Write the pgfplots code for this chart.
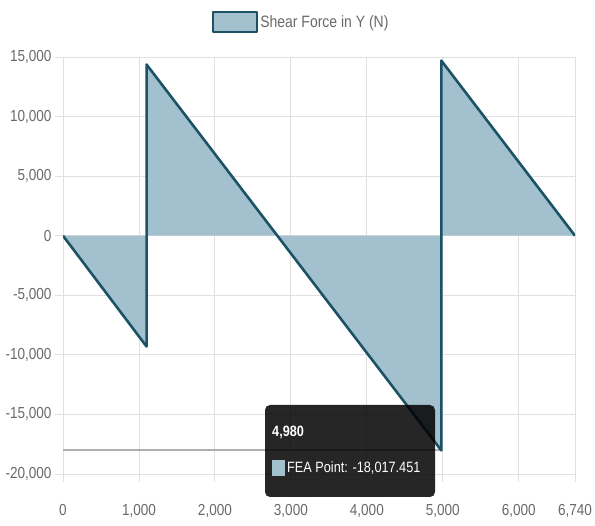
\documentclass[border=0pt]{standalone}
\usepackage{pgfplots}
\pgfplotsset{compat=1.18}
\usepackage{fontspec}
\setmainfont{Liberation Sans}[FakeStretch=0.85]
\definecolor{linec}{RGB}{28,82,102}
\definecolor{fillc}{RGB}{163,192,206}
\definecolor{gridc}{RGB}{224,224,224}
\definecolor{labc}{RGB}{105,105,105}
\definecolor{crossc}{RGB}{175,175,175}
\begin{document}
\begin{tikzpicture}
\path[use as bounding box] (0,0) rectangle (595bp,526bp);
\begin{axis}[
  at={(63bp,52bp)}, anchor=south west,
  scale only axis, width=512bp, height=417bp,
  xmin=0, xmax=6740, ymin=-20000, ymax=15000,
  xtick={0,1000,2000,3000,4000,5000,6000,6740},
  ytick={-20000,-15000,...,15000},
  grid=major, major grid style={gridc, line width=0.9pt},
  axis line style={draw=none},
  tick style={gridc, line width=0.9pt},
  major tick length=8bp, tick align=outside,
  xtick pos=lower, ytick pos=left,
  ticklabel style={font=\fontsize{16}{18}\selectfont, text=labc},
  xticklabel style={yshift=-19bp},
  /pgf/number format/assume math mode=true,
  /pgf/number format/1000 sep={,},
  scaled ticks=false,
  legend style={at={(0.465,1.084)}, anchor=center, draw=none, fill=none,
    font=\fontsize{16.5}{18}\selectfont, text=labc},
  legend image code/.code={\draw[line width=2.6bp, draw=linec, fill=fillc] (0bp,-10bp) rectangle (44bp,10bp);},
]
\addplot[fill=fillc, draw=none, forget plot] coordinates {
  (0,0) (1100,-9300) (1100,14370) (4980,-18017) (4980,14700) (6740,0) (0,0)};
\addplot[crossc, line width=2.2pt, forget plot] coordinates {(0,-18017) (4980,-18017)};
\addplot[linec, line width=2.6pt, line join=round] coordinates {
  (0,0) (1100,-9300) (1100,14370) (4980,-18017) (4980,14700) (6740,0)};
\addlegendentry{Shear Force in Y (N)}
\end{axis}
\fill[black, opacity=0.85, rounded corners=5bp] (265bp,29bp) rectangle (435bp,121bp);
\node[anchor=west, text=white, font=\bfseries\fontsize{15}{17}\selectfont, inner sep=0pt] at (272bp,94bp) {4,980};
\fill[fillc] (272bp,50bp) rectangle (285bp,66bp);
\node[anchor=west, text=white, font=\fontsize{15}{17}\selectfont, inner sep=0pt] at (287bp,58bp) {FEA Point: -18,017.451};
\end{tikzpicture}
\end{document}
